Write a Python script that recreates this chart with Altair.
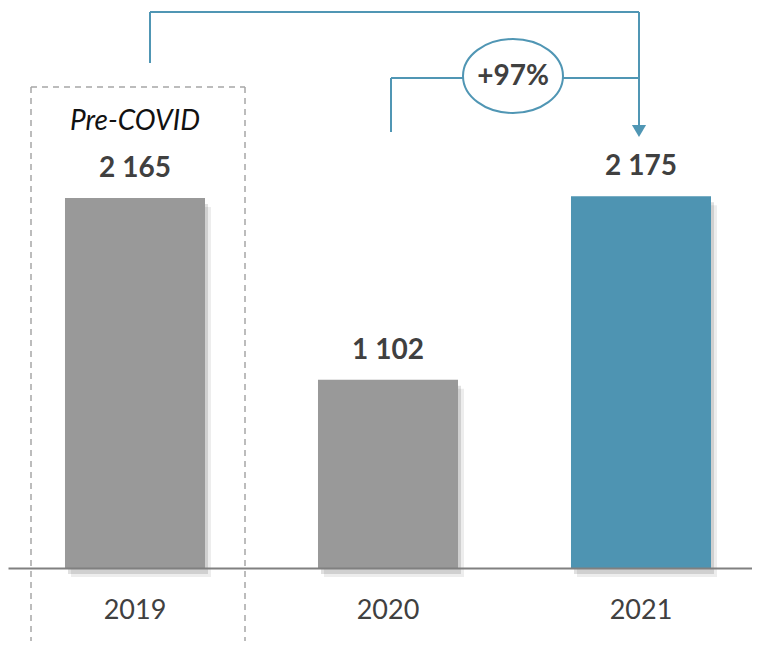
import altair as alt
import pandas as pd

# ---------------- data ----------------
years = ["2019", "2020", "2021"]
values = [2165, 1102, 2175]
value_labels = ["2 165", "1 102", "2 175"]
bar_colors = ["#999999", "#999999", "#4e94b2"]
growth_label = "+97%"
period_label = "Pre-COVID"

# ---------------- layout ----------------
W, H = 744, 560
STEP = 253.0            # px per category
FIRST_CENTER = 127.0    # px from plot left to first band centre
Y_MAX = 3277

LINE_BLUE = "#5096b4"
TEXT = "#404040"

ELLIPSE_PATH = ("M-1,0 C-1,-0.4087 -0.5523,-0.74 0,-0.74 C0.5523,-0.74 1,-0.4087 1,0 "
                "C1,0.4087 0.5523,0.74 0,0.74 C-0.5523,0.74 -1,0.4087 -1,0 Z")

df = pd.DataFrame({"year": years, "value": values, "label": value_labels, "color": bar_colors})

x_scale = alt.Scale(domain=years, paddingInner=0.4466, paddingOuter=0.19365, align=0.5816, round=False)
y_scale = alt.Scale(domain=[0, Y_MAX], nice=False, zero=True)
# linear scale in "category index" units, aligned with the band centres
xq_scale = alt.Scale(domain=[-FIRST_CENTER / STEP, (W - FIRST_CENTER) / STEP], nice=False, zero=False)

X = alt.X("year:N", scale=x_scale,
          axis=alt.Axis(title=None, labelAngle=0, ticks=False, domainColor="#808080",
                        domainWidth=2, labelFont="Lato", labelFontSize=27,
                        labelColor=TEXT, labelPadding=29, zindex=1))
Y = alt.Y("value:Q", scale=y_scale, axis=None)

base = alt.Chart(df)
shadow1 = base.mark_bar(color="#000000", opacity=0.12, xOffset=3, yOffset=6, y2Offset=2).encode(x=X, y=Y)
shadow2 = base.mark_bar(color="#000000", opacity=0.07, xOffset=6, yOffset=9, y2Offset=3).encode(x=X, y=Y)
bars = base.mark_bar().encode(x=X, y=Y, color=alt.Color("color:N", scale=None))
labels = base.mark_text(font="Lato", fontSize=28, fontWeight="bold", color=TEXT,
                        baseline="alphabetic", dy=-21).encode(x=X, y=Y, text="label:N")
bar_layer = alt.layer(shadow2, shadow1, bars, labels)


def px(year, offset_px=0):
    return years.index(year) + offset_px / STEP


def v(py):  # pixel row in the reference -> value on the y scale
    return (H + 8 - py) / (H / Y_MAX)


segments = pd.DataFrame([
    # dashed box around pre-COVID year
    dict(x1=px("2019", -104), x2=px("2019", -104), y1=v(87), y2=v(641), kind="box"),
    dict(x1=px("2019", 110), x2=px("2019", 110), y1=v(87), y2=v(641), kind="box"),
    dict(x1=px("2019", -104), x2=px("2019", 110), y1=v(87), y2=v(87), kind="box"),
    # long connector 2019 -> 2021
    dict(x1=px("2019", 15), x2=px("2019", 15), y1=v(63), y2=v(12), kind="line"),
    dict(x1=px("2019", 15), x2=px("2021", -2), y1=v(12), y2=v(12), kind="line"),
    dict(x1=px("2021", -2), x2=px("2021", -2), y1=v(12), y2=v(126), kind="line"),
    # short connector 2020 -> 2021
    dict(x1=px("2020", 3), x2=px("2020", 3), y1=v(132), y2=v(78), kind="line"),
    dict(x1=px("2020", 3), x2=px("2021", -2), y1=v(78), y2=v(78), kind="line"),
])

XQ = alt.X("x1:Q", scale=xq_scale, axis=None)
YQ = alt.Y("y1:Q", scale=y_scale, axis=None)

seg_base = alt.Chart(segments)
box_lines = seg_base.transform_filter(alt.datum.kind == "box").mark_rule(
    color="#a6a6a6", strokeWidth=1.5, strokeDash=[6, 5]).encode(x=XQ, x2="x2:Q", y=YQ, y2="y2:Q")
conn_lines = seg_base.transform_filter(alt.datum.kind == "line").mark_rule(
    color=LINE_BLUE, strokeWidth=2).encode(x=XQ, x2="x2:Q", y=YQ, y2="y2:Q")

arrow_df = pd.DataFrame({"x1": [px("2021", -2)], "y1": [v(131)]})
arrow = alt.Chart(arrow_df).mark_point(shape="triangle-down", size=200, filled=True,
                                       opacity=1, color=LINE_BLUE).encode(x=XQ, y=YQ)

ell_df = pd.DataFrame({"x1": [px("2020", 125)], "y1": [v(76)], "t": [growth_label]})
ellipse = alt.Chart(ell_df).mark_point(shape=ELLIPSE_PATH, size=10000, filled=True,
                                       fill="white", stroke=LINE_BLUE, strokeWidth=2,
                                       opacity=1).encode(x=XQ, y=YQ)
growth = alt.Chart(ell_df).mark_text(font="Lato", fontSize=28, fontWeight="bold", color=TEXT,
                                     baseline="middle", dy=1).encode(x=XQ, y=YQ, text="t:N")

period_df = pd.DataFrame({"x1": [px("2019")], "y1": [v(130)], "t": [period_label]})
period = alt.Chart(period_df).mark_text(font="Lato", fontSize=28, fontStyle="italic",
                                        color="#111111", baseline="alphabetic").encode(
    x=XQ, y=YQ, text="t:N")

annot_layer = alt.layer(box_lines, period, conn_lines, arrow, ellipse, growth)

chart = alt.layer(bar_layer, annot_layer).resolve_scale(x="independent").properties(
    width=W, height=H, padding=0, background="white").configure_view(stroke=None)

chart.save("out.html", embed_options={"renderer": "svg", "actions": False})
